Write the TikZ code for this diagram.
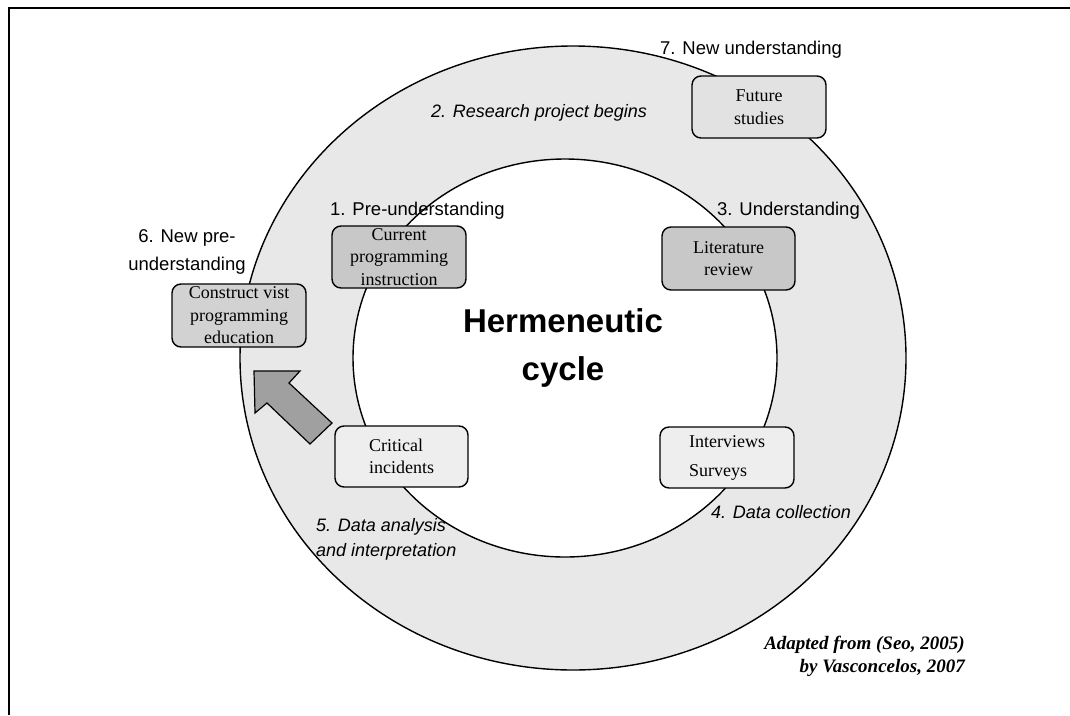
\documentclass[tikz,border=0pt]{standalone}
\usepackage{fontspec}
\setmainfont{Liberation Serif}
\setsansfont{Liberation Sans}
\begin{document}
\definecolor{ringfill}{HTML}{E8E8E8}
\definecolor{boxdark}{HTML}{C8C8C8}
\definecolor{boxmid}{HTML}{D2D2D2}
\definecolor{boxlight}{HTML}{E2E2E2}
\definecolor{boxpale}{HTML}{EEEEEE}
\definecolor{arrowfill}{HTML}{A0A0A0}
\begin{tikzpicture}[x=1pt,y=-1pt,
  stagebox/.style={draw=black, line width=1.4pt, rounded corners=9pt,
    minimum width=134pt, minimum height=62pt, inner sep=0pt,
    font=\fontsize{18}{22.5}\selectfont, align=center},
  steplabel/.style={inner sep=0pt, font=\sffamily\fontsize{18.5}{25}\selectfont},
  phaselabel/.style={inner sep=0pt, font=\sffamily\itshape\fontsize{18}{25}\selectfont}]
\useasboundingbox (0,0) rectangle (1070,715);

% page frame (top and left edges)
\draw[line width=2pt] (9,715) -- (9,8) -- (1070,8);

% the ring of the cycle
\fill[ringfill, even odd rule]
  (573,358) ellipse [x radius=333pt, y radius=312pt]
  (565,358) ellipse [x radius=212pt, y radius=199pt];
\draw[line width=1.4pt] (573,358) ellipse [x radius=333pt, y radius=312pt];
\draw[line width=1.4pt] (565,358) ellipse [x radius=212pt, y radius=199pt];

% block arrow back to the new pre-understanding
\filldraw[fill=arrowfill, draw=black, line width=1.2pt]
  (254,371) -- (300,371) -- (289,383) -- (332,423) -- (310,444)
  -- (267,403) -- (255,413) -- cycle;

% stages
\node[stagebox, fill=boxlight] (future) at (759,107) {Future\\studies};
\node[stagebox, fill=boxdark] (current) at (399,257) {Current\\programming\\instruction};
\node[stagebox, fill=boxmid, minimum height=63pt] (construct) at (239,315.5) {Construct vist\\programming\\education};
\node[stagebox, fill=boxdark, minimum height=63pt, minimum width=133pt] (literature) at (728.5,258.5) {Literature\\review};
\node[stagebox, fill=boxpale, minimum height=61pt, minimum width=133pt, align=left] (critical) at (401.5,456.5) {Critical\\incidents};
\node[stagebox, fill=boxpale, minimum height=61pt, align=left, font=\fontsize{18}{29}\selectfont] (interviews) at (727,457.5) {Interviews\\Surveys};

% step labels
\node[steplabel, anchor=west] (l7) at (660,50) {7. New understanding};
\node[phaselabel, anchor=west] (l2) at (431,113) {2. Research project begins};
\node[steplabel, anchor=west] (l1) at (330,211) {1. Pre-understanding};
\node[steplabel, anchor=west] (l3) at (717,211) {3. Understanding};
\node[steplabel, align=center, font=\sffamily\fontsize{18.5}{28}\selectfont] (l6) at (187,252) {6. New pre-\\understanding};
\node[phaselabel, anchor=west] (l4) at (711,512) {4. Data collection};
\node[phaselabel, anchor=west, align=left] (l5) at (316,539.5) {5. Data analysis\\and interpretation};

% title
\node[inner sep=0pt, align=center, font=\sffamily\bfseries\fontsize{33}{48}\selectfont] (title) at (563,348) {Hermeneutic\\cycle};

% source note
\node[inner sep=0pt, anchor=east, align=right, font=\bfseries\itshape\fontsize{19}{23}\selectfont] (source) at (965,656.5) {Adapted from (Seo, 2005)\\by Vasconcelos, 2007};
\end{tikzpicture}
\end{document}
